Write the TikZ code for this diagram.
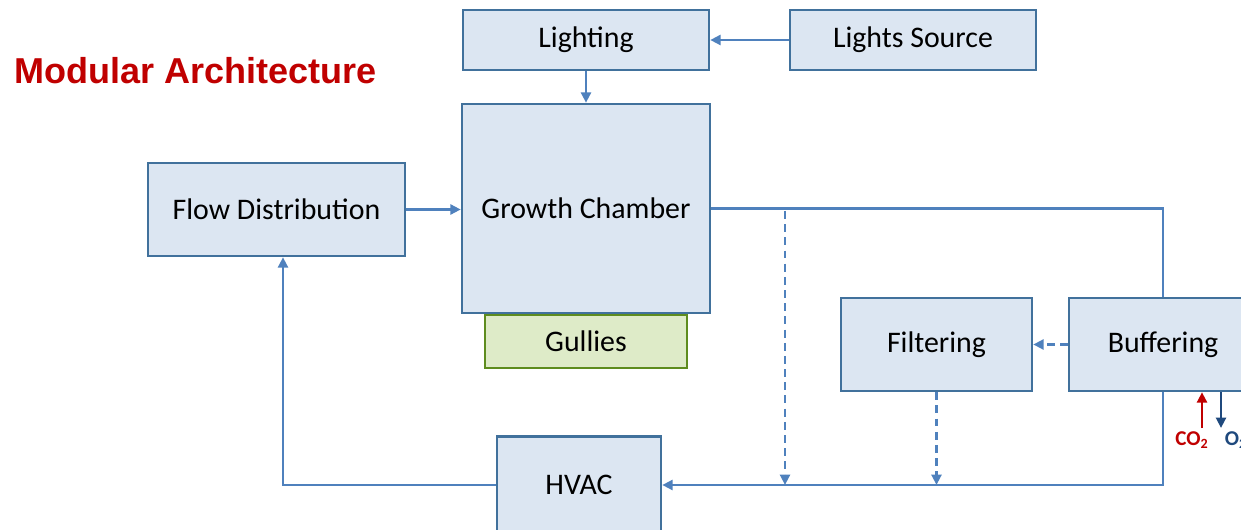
\documentclass[tikz,border=0pt]{standalone}
\usepackage{fontspec}
\setmainfont{Carlito}
\newfontfamily\titlefont{Liberation Sans}
\usetikzlibrary{arrows.meta,positioning}
\definecolor{boxfill}{HTML}{DCE6F2}
\definecolor{boxline}{HTML}{41719C}
\definecolor{flowline}{HTML}{4F81BD}
\definecolor{gullyfill}{HTML}{DEEBC8}
\definecolor{gullyline}{HTML}{5E8C1E}
\definecolor{titlered}{HTML}{C00000}
\definecolor{otwoblue}{HTML}{1F497D}

\begin{document}
\begin{tikzpicture}[
  x=0.02cm, y=-0.02cm,
  >={Triangle[length=2.1mm,width=2mm]},
  module/.style={draw=boxline, fill=boxfill, line width=1.4pt,
                 inner sep=2pt, align=center,
                 font=\fontsize{17}{20}\selectfont},
  link/.style={draw=flowline, line width=1.5pt},
  dashlink/.style={link, dash pattern=on 4.5pt off 3pt},
  gaslabel/.style={font=\bfseries\fontsize{12}{14}\selectfont, inner sep=1pt},
]
\useasboundingbox (0,0) rectangle (1241,530);

% --- Title ---
\node[anchor=west, text=titlered, font=\titlefont\bfseries\fontsize{20.5}{24}\selectfont]
  (title) at (8,71) {Modular Architecture};

% --- Modules ---
\node[module, minimum width=4.92cm, minimum height=1.2cm]  (light) at (586,40)    {Lighting};
\node[module, minimum width=4.92cm, minimum height=1.2cm]  (src)   at (913,40)    {Lights Source};
\node[module, minimum width=4.96cm, minimum height=4.18cm] (grow)  at (586,208.5) {Growth Chamber};
\node[module, draw=gullyline, fill=gullyfill,
      minimum width=4.04cm, minimum height=1.06cm]         (gully) at (586,341.5) {Gullies};
\node[module, minimum width=5.14cm, minimum height=1.86cm] (flow)  at (276.5,209.5) {Flow Distribution};
\node[module, minimum width=3.82cm, minimum height=1.86cm] (filt)  at (936.5,344.5) {Filtering};
\node[module, minimum width=3.76cm, minimum height=1.86cm] (buf)   at (1163,344.5)  {Buffering};
\node[module, minimum width=3.28cm, minimum height=1.94cm] (hvac)  at (579,485)     {HVAC};

% --- Main loop ---
\draw[link,->] (src) -- (light);
\draw[link,->] (light) -- (grow);
\draw[link,->] (flow.east) -- (flow.east -| grow.west);
\draw[link] (grow.east) -- (grow.east -| buf.north) -- (buf.north);
\draw[link,->] (buf.south) -- (buf.south |- hvac.east) -- (hvac.east);
\coordinate (flowin) at ([xshift=0.13cm]flow.south);
\draw[link,->] (hvac.west) -- (hvac.west -| flowin) -- (flowin);

% --- Bypass and filter branches (dashed) ---
\coordinate (tap) at (785,211);
\draw[dashlink,->] (tap) -- (tap |- hvac.east);
\draw[dashlink,->] (buf.west) -- (filt.east);
\draw[dashlink,->] (filt.south) -- (filt.south |- hvac.east);

% --- Gas exchange at buffering ---
\node[gaslabel, text=titlered] (co2) at (1192,440) {CO\textsubscript{2}};
\node[gaslabel, text=otwoblue] (o2)  at (1236,440) {O\textsubscript{2}};
\coordinate (co2in)  at (1202,428);
\coordinate (o2out)  at (1221,428);
\draw[->, titlered, line width=1.5pt] (co2in) -- (co2in |- buf.south);
\draw[->, otwoblue, line width=1.5pt] (o2out |- buf.south) -- (o2out);
\end{tikzpicture}
\end{document}
